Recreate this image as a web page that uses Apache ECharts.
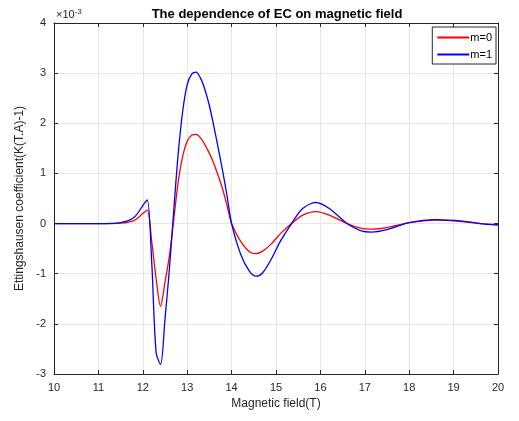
<!DOCTYPE html>
<html lang="en">
<head>
<meta charset="UTF-8">
<title>EC vs magnetic field</title>
<script src="https://cdn.jsdelivr.net/npm/echarts@6/dist/echarts.min.js"></script>
<style>
  html, body { margin: 0; padding: 0; background: #fff; }
</style>
</head>
<body>
<div id="chart1" style="width:519px;height:421px;"></div>
<script type="text/javascript">
  // magnetic field (T)
  var fieldT = [10, 11, 11.5, 11.8, 12.0, 12.1, 12.2, 12.3, 12.4, 12.5, 12.6, 12.7, 12.8, 12.9, 13.0, 13.1, 13.2, 13.3, 13.4, 13.5, 13.6, 13.7, 13.8, 13.9, 14.0, 14.2, 14.4, 14.55, 14.7, 14.9, 15.1, 15.35, 15.6, 15.9, 16.2, 16.6, 16.9, 17.15, 17.5, 18.0, 18.6, 19.2, 19.6, 20];
  // Ettingshausen coefficient, units of 1e-3
  var ecM0 = [0, 0, 0.01, 0.06, 0.2, 0.27, -0.35, -1.1, -1.65, -1.17, -0.64, 0.1, 0.85, 1.35, 1.64, 1.76, 1.78, 1.71, 1.57, 1.4, 1.2, 0.95, 0.68, 0.35, 0.0, -0.35, -0.56, -0.6, -0.55, -0.4, -0.2, 0.0, 0.17, 0.24, 0.17, 0.0, -0.09, -0.11, -0.08, 0.02, 0.07, 0.04, 0.0, -0.02];
  var ecM1 = [0, 0, 0.02, 0.12, 0.36, 0.47, -0.75, -2.57, -2.81, -1.9, -0.9, 0.3, 1.42, 2.25, 2.77, 2.98, 3.02, 2.9, 2.67, 2.35, 1.94, 1.5, 1.04, 0.54, 0.0, -0.6, -0.95, -1.05, -0.98, -0.7, -0.35, 0.0, 0.3, 0.42, 0.3, 0.0, -0.14, -0.17, -0.12, 0.02, 0.08, 0.05, 0.0, -0.03];
  var seriesNames = ['m=0', 'm=1'];

  function pairs(ys) {
    return fieldT.map(function (x, i) { return [x, ys[i]]; });
  }

  var myChart1 = echarts.init(document.getElementById('chart1'));
  var font = 'Arial, "Liberation Sans", sans-serif';
  var axisBase = {
    type: 'value',
    interval: 1,
    axisLine: { show: true, onZero: false, lineStyle: { color: '#262626', width: 1 } },
    axisTick: { show: true, inside: true, length: 4, lineStyle: { color: '#262626' } },
    axisLabel: { color: '#262626', fontFamily: font, fontSize: 11 },
    splitLine: { show: false }
  };

  myChart1.setOption({
    animation: false,
    title: {
      text: 'The dependence of EC on magnetic field',
      left: 272, top: 3, textAlign: 'center',
      textStyle: { fontSize: 13, fontWeight: 'bold', color: '#000', fontFamily: font }
    },
    graphic: [{
      type: 'text', left: 56, top: 8,
      style: {
        text: '{a|\u00d710}{b|-3}',
        rich: {
          a: { fontSize: 11, fill: '#262626', fontFamily: font },
          b: { fontSize: 8, fill: '#262626', fontFamily: font, verticalAlign: 'top', padding: [0, 0, 6, 0] }
        }
      }
    }],
    legend: {
      data: seriesNames,
      orient: 'vertical',
      right: 23, top: 27,
      itemWidth: 32, itemHeight: 2, itemGap: 6,
      padding: [5, 4, 4, 5],
      borderColor: '#262626', borderWidth: 1,
      backgroundColor: '#fff',
      icon: 'rect',
      textStyle: { fontSize: 11, color: '#000', fontFamily: font, padding: [0, 0, 0, -4] }
    },
    grid: { left: 54, right: 21, top: 23, bottom: 47 },
    xAxis: [
      Object.assign({}, axisBase, {
        min: 10, max: 20, position: 'bottom',
        name: 'Magnetic field(T)', nameLocation: 'middle', nameGap: 22,
        nameTextStyle: { fontSize: 12, color: '#262626', fontFamily: font },
        splitLine: { show: true, lineStyle: { color: '#e6e6e6' } }
      }),
      Object.assign({}, axisBase, {
        min: 10, max: 20, position: 'top', axisLabel: { show: false }
      })
    ],
    yAxis: [
      Object.assign({}, axisBase, {
        min: -3, max: 4, position: 'left',
        name: 'Ettingshausen coefficient(K(T.A)-1)', nameLocation: 'middle', nameGap: 25,
        nameTextStyle: { fontSize: 12, color: '#262626', fontFamily: font },
        splitLine: { show: true, lineStyle: { color: '#e6e6e6' } }
      }),
      Object.assign({}, axisBase, {
        min: -3, max: 4, position: 'right', axisLabel: { show: false }
      })
    ],
    series: [
      {
        name: seriesNames[0], type: 'line', data: pairs(ecM0),
        smooth: 0.3, showSymbol: false,
        lineStyle: { color: '#ff0000', width: 1.3 }, itemStyle: { color: '#ff0000' }
      },
      {
        name: seriesNames[1], type: 'line', data: pairs(ecM1),
        smooth: 0.3, showSymbol: false,
        lineStyle: { color: '#0000ff', width: 1.3 }, itemStyle: { color: '#0000ff' }
      }
    ]
  });
</script>
</body>
</html>
